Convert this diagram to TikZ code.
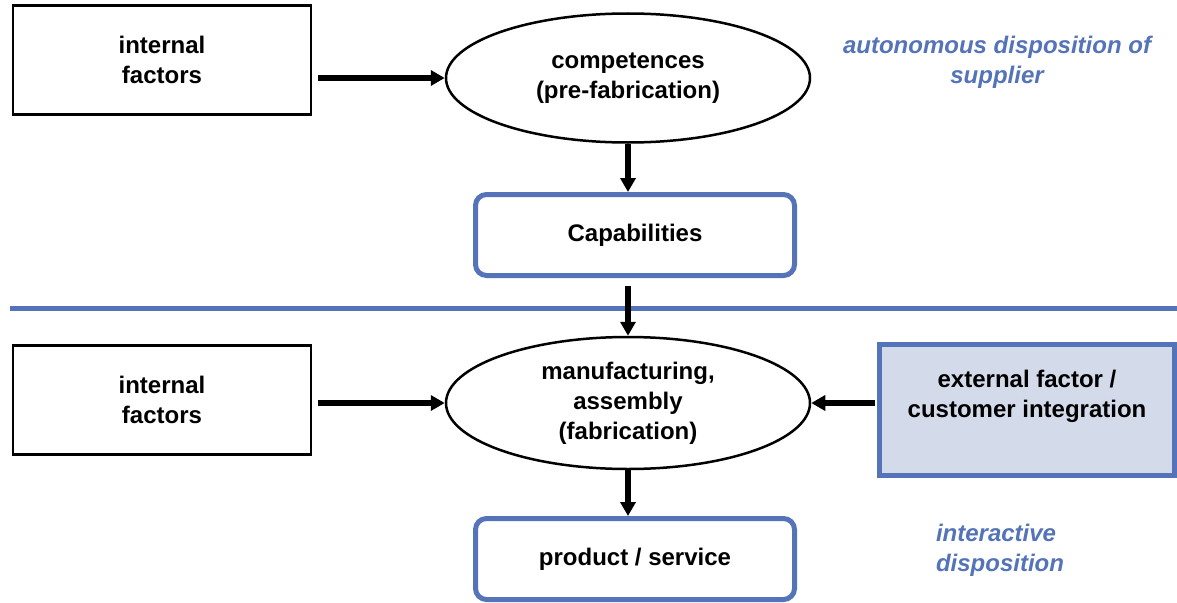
\documentclass[tikz,border=0pt]{standalone}
\usepackage{fontspec}
\setmainfont{Liberation Sans}
\usetikzlibrary{shapes.geometric, arrows.meta, positioning}
\definecolor{lineblue}{RGB}{84,115,185}
\definecolor{fillblue}{RGB}{211,218,234}

\begin{document}
\begin{tikzpicture}[x=1pt, y=-1pt,
    every node/.style={font=\bfseries\fontsize{24}{30}\selectfont, align=center, inner sep=0pt},
    plainbox/.style={draw=black, line width=2.5pt, minimum width=298pt, minimum height=109pt},
    capbox/.style={draw=lineblue, line width=5pt, rounded corners=11pt, minimum width=319pt, minimum height=81pt},
    oval/.style={ellipse, draw=black, line width=2.5pt, minimum width=364pt},
    arr/.style={line width=6pt, -{Triangle[length=14pt, width=15pt]}},
    note/.style={text=lineblue, font=\bfseries\itshape\fontsize{24}{30}\selectfont}]
  \useasboundingbox (0,0) rectangle (1177,602);
  % supplier side
  \node[plainbox] (intA) at (162,60) {internal\\factors};
  \node[oval, minimum height=129pt] (comp) at (628,78) {competences\\(pre-fabrication)};
  \node[capbox] (cap) at (635,235) {Capabilities};
  \node[note] (auto) at (997,62) {autonomous disposition of\\supplier};
  \draw[lineblue, line width=5pt] (10,308) -- (1177,308);
  % customer side
  \node[plainbox] (intB) at (162,400) {internal\\factors};
  \node[oval, minimum height=132pt] (manu) at (628,403) {manufacturing,\\assembly\\(fabrication)};
  \node[draw=lineblue, fill=fillblue, line width=5pt, minimum width=295pt, minimum height=131pt, text depth=32pt] (ext) at (1027,410) {external factor /\\customer integration};
  \node[capbox] (prod) at (635,559) {product / service};
  \node[note, align=left] (inter) at (1000,550) {interactive\\disposition};
  % arrows
  \draw[arr, shorten <=6pt] (intA.east |- comp.west) -- (comp.west);
  \draw[arr] (comp.south) -- (comp.south |- cap.north);
  \draw[arr, shorten <=8pt] (cap.south -| comp.south) -- (manu.north);
  \draw[arr, shorten <=6pt] (intB.east |- manu.west) -- (manu.west);
  \draw[arr, shorten <=2pt] (ext.west |- manu.east) -- (manu.east);
  \draw[arr] (manu.south) -- (manu.south |- prod.north);
\end{tikzpicture}
\end{document}
